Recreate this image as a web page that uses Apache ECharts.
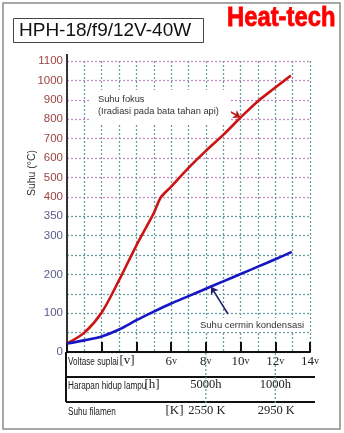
<!DOCTYPE html>
<html><head><meta charset="utf-8">
<script src="https://cdn.jsdelivr.net/npm/echarts@6/dist/echarts.min.js"></script>
<style>html,body{margin:0;padding:0;background:#fff}#c{width:344px;height:433px}</style>
</head><body><div id="c"></div>
<script>
// ---- data ----
const focusVolt = [0, 1, 2, 3, 4, 5, 5.4, 6, 7, 8, 9, 10, 11, 12, 12.9];
const focusTemp = [22, 50, 102, 185, 275, 358, 398, 452, 549, 637, 719, 809, 893, 963, 1025];
const mirrorVolt = [0, 1, 2, 3, 4, 5, 6, 7, 8, 9, 10, 11, 12, 12.95];
const mirrorTemp = [22, 30, 40, 58, 82, 104, 125, 144, 163, 182, 201, 220, 239, 258];
const yTickTemps = [0, 100, 200, 300, 350, 400, 500, 600, 700, 800, 900, 1000, 1100];
const xTickVolts = [6, 8, 10, 12, 14];
const lifeVolts = [8, 12];
const lifeLabels = ['5000h', '1000h'];
const filamentLabels = ['2550 K', '2950 K'];
const focusArrow = [10, 809];
const mirrorArrow = [8.3, 168];
// broken (piecewise) temperature scale: temp breakpoints -> grid units
const scaleTemps = [0, 300, 400, 1100];
const scaleUnits = [0, 6, 8, 15];

function toUnit(t) {
  for (let i = 1; i < scaleTemps.length; i++) {
    if (t <= scaleTemps[i] || i === scaleTemps.length - 1) {
      const a = scaleTemps[i - 1], b = scaleTemps[i];
      return scaleUnits[i - 1] + (t - a) / (b - a) * (scaleUnits[i] - scaleUnits[i - 1]);
    }
  }
}
function fromUnit(u) {
  for (let i = 1; i < scaleUnits.length; i++) {
    if (u <= scaleUnits[i] || i === scaleUnits.length - 1) {
      const a = scaleUnits[i - 1], b = scaleUnits[i];
      return scaleTemps[i - 1] + (u - a) / (b - a) * (scaleTemps[i] - scaleTemps[i - 1]);
    }
  }
}

const TEAL = '#6a9ea2', PURPLE = '#c58ac5';
const gridColors = [];
for (let u = 0; u <= 15; u++) gridColors.push(fromUnit(u) >= 400 ? PURPLE : TEAL);

const chart = echarts.init(document.getElementById('c'), null, {renderer: 'canvas'});
const SERIF = '"Liberation Serif", "DejaVu Serif", serif';
const SANS = '"Liberation Sans", Arial, sans-serif';
const NARROW_SCALE = 0.82;

chart.setOption({
  animation: false,
  grid: {left: 67, right: 34, top: 61, bottom: 81, outerBoundsMode: 'none'},
  xAxis: [
    {type: 'value', min: 0, max: 14, interval: 1,
      axisLine: {show: true, onZero: false, lineStyle: {color: '#111', width: 2}},
      axisTick: {show: false}, axisLabel: {show: false},
      splitLine: {show: true, lineStyle: {color: TEAL, type: [2, 2], width: 1.3}}},
    {type: 'value', min: 0, max: 14, interval: 2, position: 'bottom', offset: 0,
      axisLine: {show: false},
      axisTick: {show: true, inside: true, length: 10, lineStyle: {color: '#111', width: 2}},
      splitLine: {show: false},
      axisLabel: {margin: 3,
        formatter: v => xTickVolts.includes(v) ? '{n|' + v + '}{u|v}' : '',
        rich: {n: {fontFamily: SERIF, fontSize: 13, color: '#222'},
               u: {fontFamily: SERIF, fontSize: 10, color: '#222'}}}}
  ],
  yAxis: {type: 'value', min: 0, max: 15, interval: 1,
    axisLine: {show: true, lineStyle: {color: '#333', width: 2}},
    axisTick: {show: false},
    axisLabel: {margin: 4, fontFamily: SANS, fontSize: 11.5,
      formatter: u => { const t = Math.round(fromUnit(u)); return yTickTemps.includes(t) ? String(t) : ''; },
      color: u => (u === 0 ? '#4656a6' : (fromUnit(u) >= 400 ? '#9c4444' : '#5a5a88'))},
    splitLine: {show: true, lineStyle: {color: gridColors, type: [2, 2], width: 1.3}}},
  series: [
    {name: 'focus', type: 'line', z: 10, showSymbol: false, smooth: 0.3,
      lineStyle: {color: '#cc1414', width: 2.6},
      data: focusVolt.map((v, i) => [v, toUnit(focusTemp[i])]),
      markLine: {silent: true, symbol: ['none', 'arrow'], symbolSize: 7, animation: false,
        label: {show: false}, lineStyle: {color: '#b81818', width: 1.6, type: 'solid'},
        emphasis: {disabled: true},
        data: [[{x: 215, y: 103}, {coord: [focusArrow[0], toUnit(focusArrow[1])]}]]}},
    {name: 'mirror', type: 'line', z: 10, showSymbol: false, smooth: 0.3,
      lineStyle: {color: '#1616c4', width: 2.6},
      data: mirrorVolt.map((v, i) => [v, toUnit(mirrorTemp[i])]),
      markLine: {silent: true, symbol: ['none', 'arrow'], symbolSize: 7, animation: false,
        label: {show: false}, lineStyle: {color: '#22226e', width: 1.6, type: 'solid'},
        emphasis: {disabled: true},
        data: [[{x: 228, y: 314}, {coord: [mirrorArrow[0], toUnit(mirrorArrow[1])]}]]}}
  ]
});

const px = v => chart.convertToPixel({xAxisIndex: 0}, v);
const py = t => chart.convertToPixel({yAxisIndex: 0}, toUnit(t));
const x0 = px(0), xEnd = px(14) + 5, y0 = py(0), yTop = py(1100);

const g = [];
g.push({type: 'rect', z: 1, shape: {x: 3, y: 3, width: 337, height: 426}, style: {fill: 'none', stroke: '#8a8a8a', lineWidth: 1.5}});
g.push({type: 'rect', z: 1, shape: {x: 13.5, y: 18.5, width: 190, height: 24}, style: {fill: 'none', stroke: '#444', lineWidth: 1}});
g.push({type: 'text', z: 1, x: 19, y: 31, style: {text: 'HPH-18/f9/12V-40W', font: '19px ' + SANS, fill: '#111', textVerticalAlign: 'middle'}});
g.push({type: 'text', z: 1, x: 227, y: 18.5, scaleX: 0.85, style: {text: 'Heat-tech', font: 'bold 28px ' + SANS, fill: '#ff0000', stroke: '#ff0000', lineWidth: 0.8, textVerticalAlign: 'middle'}});
g.push({type: 'text', z: 1, x: 32, y: 173, rotation: Math.PI / 2, style: {text: 'Suhu (°C)', font: '10.5px ' + SANS, fill: '#333', textAlign: 'center', textVerticalAlign: 'middle'}});
g.push({type: 'line', z: 1, shape: {x1: x0, y1: yTop - 7, x2: x0, y2: yTop}, style: {stroke: '#333', lineWidth: 2}});
// annotation boxes
g.push({type: 'text', z: 5, x: 90, y: 90, style: {text: 'Suhu fokus\n(Iradiasi pada bata tahan api)', font: '9.3px ' + SANS, lineHeight: 11.5, fill: '#333', backgroundColor: '#fff', padding: [4, 12, 7, 8]}});
g.push({type: 'text', z: 5, x: 197, y: 325, style: {text: 'Suhu cermin kondensasi', font: '9.5px ' + SANS, fill: '#333', textVerticalAlign: 'middle', backgroundColor: '#fff', padding: [2, 0, 2, 3]}});
// table below axis
const r1 = y0 + 10, l1 = y0 + 25, r2 = y0 + 33, l2 = y0 + 50, r3 = y0 + 59;
g.push({type: 'line', z: 1, shape: {x1: x0 - 1, y1: y0, x2: x0 - 1, y2: l2}, style: {stroke: '#111', lineWidth: 2}});
g.push({type: 'line', z: 1, shape: {x1: x0 - 1, y1: l1, x2: xEnd, y2: l1}, style: {stroke: '#111', lineWidth: 2}});
g.push({type: 'line', z: 1, shape: {x1: x0 - 1, y1: l2, x2: xEnd, y2: l2}, style: {stroke: '#111', lineWidth: 2}});
lifeVolts.forEach((v, i) => {
  const x = px(v);
  g.push({type: 'line', z: 1, shape: {x1: x, y1: y0 + 1, x2: x, y2: y0 + 56}, style: {stroke: TEAL, lineWidth: 1.3, lineDash: [2, 2]}});
  g.push({type: 'text', z: 2, x: x, y: r2, style: {text: lifeLabels[i], font: '12.5px ' + SERIF, fill: '#222', textAlign: 'center', textVerticalAlign: 'middle'}});
  g.push({type: 'text', z: 2, x: x + 1, y: r3, style: {text: filamentLabels[i], font: '12.5px ' + SERIF, fill: '#222', textAlign: 'center', textVerticalAlign: 'middle'}});
});
const rowLabel = (text, y) => ({type: 'text', z: 2, x: x0 + 1, y: y, scaleX: NARROW_SCALE,
  style: {text: text, font: '10px ' + SANS, fill: '#222', textVerticalAlign: 'middle'}});
g.push(rowLabel('Voltase suplai', r1));
g.push(rowLabel('Harapan hidup lampu', r2 + 1));
g.push(rowLabel('Suhu filamen', r3 + 1));
g.push({type: 'text', z: 2, x: 127, y: r1 - 1, style: {text: '[v]', font: '13px ' + SERIF, fill: '#222', textAlign: 'center', textVerticalAlign: 'middle'}});
g.push({type: 'text', z: 2, x: 152, y: r2, style: {text: '[h]', font: '13px ' + SERIF, fill: '#222', textAlign: 'center', textVerticalAlign: 'middle'}});
g.push({type: 'text', z: 2, x: 174.5, y: r3, style: {text: '[K]', font: '13px ' + SERIF, fill: '#222', textAlign: 'center', textVerticalAlign: 'middle'}});

chart.setOption({graphic: g});
</script></body></html>
